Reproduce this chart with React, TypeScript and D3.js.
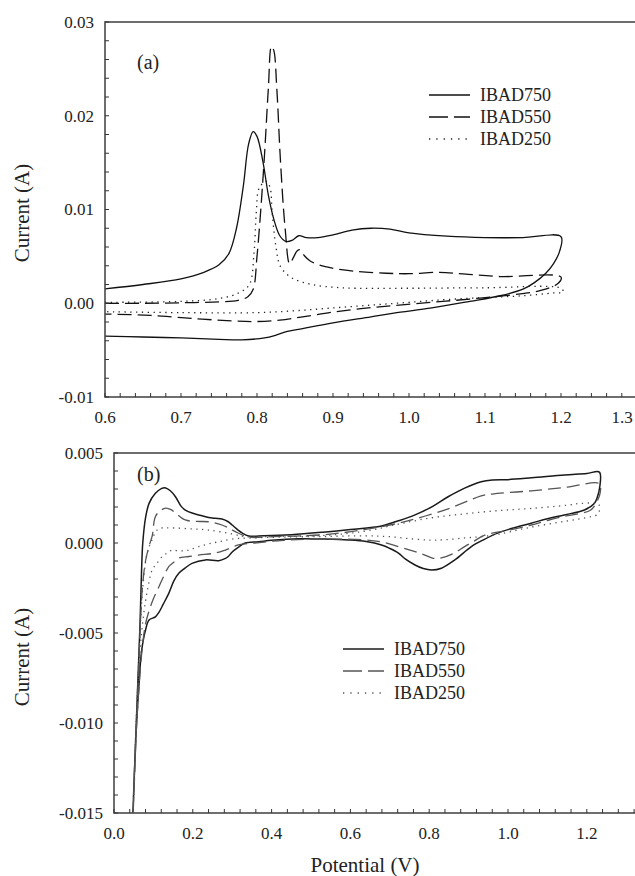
import React from "react";
import * as d3 from "d3";

type Pt = [number, number];

// ---------- Panel (a) data: [potential V, current A] ----------
const a_IBAD750: Pt[] = [
  [0.600, 0.00153], [0.650, 0.00200], [0.700, 0.00260], [0.730, 0.00330], [0.750, 0.00410],
  [0.763, 0.00530], [0.773, 0.00800], [0.782, 0.01250], [0.789, 0.01700], [0.795, 0.01830],
  [0.800, 0.01780], [0.808, 0.01500], [0.815, 0.01150], [0.822, 0.00900], [0.830, 0.00720],
  [0.838, 0.00660], [0.846, 0.00670], [0.855, 0.00720], [0.865, 0.00700], [0.880, 0.00700],
  [0.900, 0.00730], [0.925, 0.00780], [0.950, 0.00800], [0.975, 0.00790], [1.000, 0.00750],
  [1.050, 0.00715], [1.100, 0.00700], [1.150, 0.00700], [1.200, 0.00710],
  [1.198, 0.00550], [1.190, 0.00420], [1.180, 0.00320], [1.165, 0.00220], [1.150, 0.00150],
  [1.120, 0.00080], [1.080, 0.00020], [1.030, -0.00050], [0.980, -0.00105], [0.950, -0.00145],
  [0.900, -0.00210], [0.860, -0.00270], [0.840, -0.00300], [0.825, -0.00340], [0.810, -0.00370],
  [0.780, -0.00390], [0.750, -0.00385], [0.700, -0.00370], [0.650, -0.00360], [0.600, -0.00350],
];

const a_IBAD550: Pt[] = [
  [0.600, 0.00000], [0.650, 0.00000], [0.700, 0.00005], [0.750, 0.00015], [0.775, 0.00030],
  [0.788, 0.00070], [0.795, 0.00150], [0.800, 0.00500], [0.805, 0.01000], [0.810, 0.01600],
  [0.815, 0.02300], [0.819, 0.02740], [0.822, 0.02700], [0.826, 0.02300], [0.831, 0.01500],
  [0.837, 0.00800], [0.843, 0.00420], [0.848, 0.00490], [0.853, 0.00560], [0.857, 0.00570],
  [0.862, 0.00510], [0.870, 0.00450], [0.890, 0.00390], [0.930, 0.00340], [0.970, 0.00320],
  [1.000, 0.00315], [1.040, 0.00330], [1.075, 0.00310], [1.120, 0.00285], [1.200, 0.00280],
  [1.196, 0.00210], [1.170, 0.00130], [1.130, 0.00085], [1.080, 0.00045], [1.030, 0.00010],
  [0.980, -0.00025], [0.940, -0.00055], [0.900, -0.00095], [0.860, -0.00145], [0.830, -0.00180],
  [0.800, -0.00195], [0.770, -0.00190], [0.720, -0.00165], [0.660, -0.00130], [0.600, -0.00115],
];

const a_IBAD250: Pt[] = [
  [0.600, 0.00010], [0.700, 0.00020], [0.750, 0.00050], [0.776, 0.00110], [0.790, 0.00200],
  [0.796, 0.00530], [0.799, 0.00960], [0.803, 0.01230], [0.812, 0.01300], [0.817, 0.01240],
  [0.820, 0.00960], [0.825, 0.00600], [0.831, 0.00390], [0.846, 0.00270], [0.872, 0.00200],
  [0.912, 0.00165], [1.000, 0.00160], [1.100, 0.00165], [1.200, 0.00160],
  [1.203, 0.00120], [1.190, 0.00110], [1.150, 0.00080], [1.100, 0.00060], [1.050, 0.00040],
  [1.000, 0.00010], [0.950, -0.00020], [0.900, -0.00050], [0.850, -0.00080], [0.800, -0.00100],
  [0.700, -0.00100], [0.600, -0.00090],
];

// ---------- Panel (b) data ----------
const b_IBAD750: Pt[] = [
  [0.048, -0.0150], [0.060, -0.0080], [0.066, -0.0045], [0.070, -0.0015], [0.073, 0.0000],
  [0.080, 0.00140], [0.089, 0.00220], [0.105, 0.00276], [0.120, 0.00302], [0.131, 0.00306],
  [0.143, 0.00290], [0.156, 0.00257], [0.170, 0.00205], [0.181, 0.00183], [0.200, 0.00165],
  [0.215, 0.00156], [0.240, 0.00142], [0.257, 0.00137], [0.274, 0.00133], [0.290, 0.00118],
  [0.300, 0.00100], [0.315, 0.00072], [0.325, 0.00056], [0.342, 0.00039], [0.380, 0.00040],
  [0.450, 0.00046], [0.530, 0.00060], [0.600, 0.00075], [0.679, 0.00095], [0.720, 0.00122],
  [0.764, 0.00156], [0.810, 0.00205], [0.848, 0.00257], [0.890, 0.00305], [0.932, 0.00340],
  [0.960, 0.00350], [1.000, 0.00352], [1.060, 0.00362], [1.144, 0.00378], [1.200, 0.00386],
  [1.232, 0.00394],
  [1.233, 0.00313], [1.226, 0.00250], [1.219, 0.00220], [1.194, 0.00183], [1.143, 0.00156],
  [1.100, 0.00135], [1.059, 0.00110], [1.016, 0.00085], [0.975, 0.00056], [0.940, 0.00020],
  [0.907, -0.00020], [0.865, -0.00094], [0.831, -0.00140], [0.806, -0.00150], [0.785, -0.00142],
  [0.764, -0.00122], [0.740, -0.00090], [0.722, -0.00056], [0.700, -0.00030], [0.679, -0.00011],
  [0.640, 0.00008], [0.595, 0.00017], [0.536, 0.00022], [0.468, 0.00024], [0.400, 0.00015],
  [0.367, 0.00007], [0.333, 0.00000], [0.315, -0.00025], [0.300, -0.00050], [0.290, -0.00075],
  [0.283, -0.00085], [0.266, -0.00098], [0.232, -0.00094], [0.198, -0.00113], [0.180, -0.00140],
  [0.165, -0.00167], [0.152, -0.00210], [0.139, -0.00280], [0.125, -0.00340], [0.114, -0.00385],
  [0.105, -0.00410], [0.089, -0.00428], [0.080, -0.00483], [0.070, -0.00600], [0.063, -0.00800],
  [0.055, -0.01100], [0.048, -0.01500],
];

const b_IBAD550: Pt[] = [
  [0.049, -0.0148], [0.060, -0.0085], [0.066, -0.0050], [0.072, -0.0025], [0.080, -0.0010],
  [0.090, -0.0001], [0.097, 0.00040], [0.105, 0.00146], [0.118, 0.00180], [0.131, 0.00194],
  [0.145, 0.00185], [0.156, 0.00167], [0.181, 0.00128], [0.210, 0.00120], [0.240, 0.00118],
  [0.274, 0.00100], [0.290, 0.00085], [0.308, 0.00063], [0.342, 0.00033], [0.400, 0.00035],
  [0.532, 0.00046], [0.635, 0.00074], [0.722, 0.00110], [0.790, 0.00150], [0.848, 0.00190],
  [0.900, 0.00235], [0.932, 0.00262], [0.960, 0.00272], [1.059, 0.00290], [1.150, 0.00310],
  [1.232, 0.00330],
  [1.234, 0.00280], [1.228, 0.00240], [1.210, 0.00183], [1.180, 0.00163], [1.143, 0.00148],
  [1.100, 0.00125], [1.059, 0.00100], [1.000, 0.00070], [0.941, 0.00044], [0.910, 0.00005],
  [0.890, -0.00020], [0.860, -0.00060], [0.831, -0.00083], [0.810, -0.00085], [0.789, -0.00067],
  [0.760, -0.00045], [0.722, -0.00020], [0.680, 0.00005], [0.637, 0.00017], [0.532, 0.00022],
  [0.430, 0.00015], [0.357, 0.00000], [0.316, -0.00011], [0.283, -0.00039], [0.257, -0.00056],
  [0.215, -0.00067], [0.190, -0.00075], [0.165, -0.00083], [0.150, -0.00110], [0.139, -0.00131],
  [0.125, -0.00190], [0.114, -0.00243], [0.100, -0.00310], [0.090, -0.00370], [0.080, -0.00450],
  [0.070, -0.00620], [0.062, -0.00850], [0.055, -0.01100], [0.049, -0.01480],
];

const b_IBAD250: Pt[] = [
  [0.050, -0.0140], [0.060, -0.0080], [0.067, -0.0045], [0.075, -0.0020], [0.085, -0.0005],
  [0.097, 0.00020], [0.105, 0.00060], [0.114, 0.00080], [0.130, 0.00084], [0.156, 0.00083],
  [0.200, 0.00078], [0.240, 0.00072], [0.300, 0.00050], [0.333, 0.00035], [0.400, 0.00036],
  [0.532, 0.00042], [0.635, 0.00065], [0.722, 0.00105], [0.806, 0.00140], [0.890, 0.00162],
  [0.975, 0.00180], [1.059, 0.00192], [1.150, 0.00210], [1.186, 0.00220], [1.230, 0.00215],
  [1.232, 0.00180], [1.228, 0.00160], [1.210, 0.00146], [1.143, 0.00120], [1.047, 0.00083],
  [0.975, 0.00048], [0.930, 0.00035], [0.890, 0.00028], [0.840, 0.00018], [0.806, 0.00016],
  [0.760, 0.00022], [0.700, 0.00035], [0.637, 0.00040], [0.532, 0.00036], [0.430, 0.00033],
  [0.347, 0.00028], [0.300, 0.00022], [0.266, 0.00007], [0.240, -0.00005], [0.215, -0.00020],
  [0.195, -0.00035], [0.181, -0.00043], [0.160, -0.00042], [0.148, -0.00039], [0.135, -0.00055],
  [0.122, -0.00076], [0.110, -0.00110], [0.097, -0.00150], [0.085, -0.00260], [0.075, -0.00400],
  [0.066, -0.00600], [0.058, -0.00900], [0.050, -0.01400],
];

const seriesNames = ["IBAD750", "IBAD550", "IBAD250"];
const aXTicks = [0.6, 0.7, 0.8, 0.9, 1.0, 1.1, 1.2, 1.3];
const aYTicks = [-0.01, 0.0, 0.01, 0.02, 0.03];
const bXTicks = [0.0, 0.2, 0.4, 0.6, 0.8, 1.0, 1.2];
const bYTicks = [-0.015, -0.01, -0.005, 0.0, 0.005];

const FONT = "'Liberation Serif', 'Times New Roman', 'DejaVu Serif', serif";

const styleA = [
  { stroke: "#111", dash: "none", width: 1.3 },
  { stroke: "#111", dash: "14 6", width: 1.3 },
  { stroke: "#222", dash: "1.3 4.5", width: 1.3 },
];
const styleB = [
  { stroke: "#1a1a1a", dash: "none", width: 1.5 },
  { stroke: "#555", dash: "13 6", width: 1.3 },
  { stroke: "#555", dash: "1.3 4.5", width: 1.3 },
];

const txt = (size: number): React.CSSProperties => ({ fontFamily: FONT, fontSize: size + "px" });

function Panel(props: {
  x: d3.ScaleLinear<number, number>;
  y: d3.ScaleLinear<number, number>;
  series: Pt[][];
  styles: { stroke: string; dash: string; width: number }[];
  xTicks: number[];
  yTicks: number[];
  xMinorStep: number;
  yMinorStep: number;
  xFmt: string;
  yFmt: string;
  tag: string;
  tagPos: [number, number];
  legendPos: [number, number];
  yLabelY: number;
}) {
  const { x, y } = props;
  const [x0, x1] = x.range();
  const [y0, y1] = y.range();
  const line = d3
    .line<Pt>()
    .x((d) => x(d[0]))
    .y((d) => y(d[1]))
    .curve(d3.curveCatmullRom.alpha(0.5));
  const xd = x.domain();
  const yd = y.domain();
  const nx = Math.round((xd[1] - xd[0]) / props.xMinorStep);
  const ny = Math.round((yd[1] - yd[0]) / props.yMinorStep);
  const xMinor = d3.range(0, nx + 1).map((i) => xd[0] + i * props.xMinorStep);
  const yMinor = d3.range(0, ny + 1).map((i) => yd[0] + i * props.yMinorStep);
  const fx = d3.format(props.xFmt);
  const fy = d3.format(props.yFmt);
  const fixMinus = (s: string) => s.replace("\u2212", "-");
  return (
    <g>
      {props.series.map((s, i) => (
        <path
          key={i}
          d={line(s) || ""}
          fill="none"
          stroke={props.styles[i].stroke}
          strokeWidth={props.styles[i].width}
          strokeDasharray={props.styles[i].dash}
          strokeLinejoin="round"
        />
      ))}
      <rect x={x0} y={y1} width={x1 - x0} height={y0 - y1} fill="none" stroke="#4a4a4a" strokeWidth={1.6} />
      {xMinor.map((v, i) => (
        <line key={"xm" + i} x1={x(v)} x2={x(v)} y1={y0} y2={y0 - 4} stroke="#333" strokeWidth={1} />
      ))}
      {yMinor.map((v, i) => (
        <line key={"ym" + i} x1={x0} x2={x0 + 4} y1={y(v)} y2={y(v)} stroke="#333" strokeWidth={1} />
      ))}
      {props.xTicks.map((v, i) => {
        const px = Math.min(x(v), 622);
        return (
          <text key={"xl" + i} x={px} y={y0 + 20} dy="0.35em" textAnchor="middle" style={txt(17)} fill="#222">
            {fixMinus(fx(v))}
          </text>
        );
      })}
      {props.yTicks.map((v, i) => (
        <text key={"yl" + i} x={x0 - 11} y={y(v)} dy="0.35em" textAnchor="end" style={txt(17)} fill="#222">
          {fixMinus(fy(v))}
        </text>
      ))}
      <text
        transform={`translate(22,${props.yLabelY}) rotate(-90)`}
        textAnchor="middle"
        dy="0.35em"
        style={txt(21)}
        fill="#222"
      >
        Current (A)
      </text>
      <text x={props.tagPos[0]} y={props.tagPos[1]} dy="0.35em" style={txt(20)} fill="#222">
        {props.tag}
      </text>
      {seriesNames.map((n, i) => {
        const ly = props.legendPos[1] + i * 22;
        const lx = props.legendPos[0];
        return (
          <g key={"lg" + i}>
            <line
              x1={lx}
              x2={lx + 41}
              y1={ly}
              y2={ly}
              stroke={props.styles[i].stroke}
              strokeWidth={props.styles[i].width}
              strokeDasharray={i === 1 ? "19 6" : i === 2 ? "1.3 6" : "none"}
            />
            <text x={lx + 51} y={ly} dy="0.35em" style={txt(18)} fill="#222">
              {n}
            </text>
          </g>
        );
      })}
    </g>
  );
}

export default function App() {
  const xA = d3.scaleLinear().domain([0.6, 1.3]).range([105, 637]);
  const yA = d3.scaleLinear().domain([-0.01, 0.03]).range([397, 22]);
  const xB = d3.scaleLinear().domain([0.0, 1.4]).range([114, 114 + 1.4 * 394]);
  const yB = d3.scaleLinear().domain([-0.015, 0.005]).range([813, 453]);
  return (
    <svg width={635} height={876} style={{ position: "absolute", left: 0, top: 0, background: "#fff" }}>
      <rect x={0} y={0} width={635} height={876} fill="#fff" />
      <Panel
        x={xA}
        y={yA}
        series={[a_IBAD750, a_IBAD550, a_IBAD250]}
        styles={styleA}
        xTicks={aXTicks}
        yTicks={aYTicks}
        xMinorStep={0.02}
        yMinorStep={0.002}
        xFmt=".1f"
        yFmt=".2f"
        tag="(a)"
        tagPos={[137, 62]}
        legendPos={[429, 95]}
        yLabelY={213}
      />
      <Panel
        x={xB}
        y={yB}
        series={[b_IBAD750, b_IBAD550, b_IBAD250]}
        styles={styleB}
        xTicks={bXTicks}
        yTicks={bYTicks}
        xMinorStep={0.04}
        yMinorStep={0.001}
        xFmt=".1f"
        yFmt=".3f"
        tag="(b)"
        tagPos={[137, 474]}
        legendPos={[343, 649]}
        yLabelY={657}
      />
      <text x={365} y={865} dy="0.35em" textAnchor="middle" style={txt(21)} fill="#222">
        Potential (V)
      </text>
    </svg>
  );
}
